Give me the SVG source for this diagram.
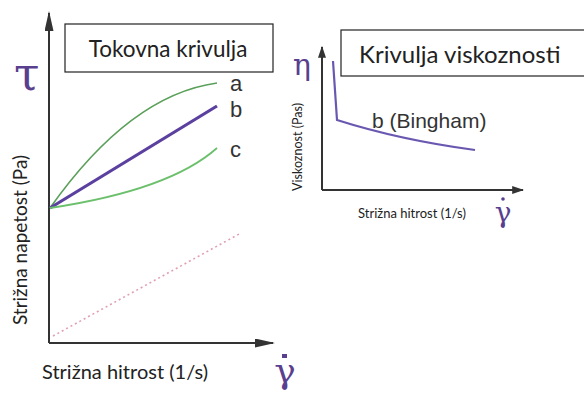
<svg xmlns="http://www.w3.org/2000/svg" width="584" height="396" viewBox="0 0 584 396">
<defs>
<style>
.axis{stroke:#333;stroke-width:2;fill:none}
.lbl{font-family:Lato,"Open Sans",sans-serif;fill:#222}
.cl{font-family:"Liberation Sans",Arial,sans-serif;fill:#333}
.sym{font-family:"DejaVu Serif",serif;fill:#5a3f8f}
.box{fill:#fff;stroke:#222;stroke-width:1.2}
</style>
<marker id="ah" viewBox="0 0 10 10" refX="9" refY="5" markerWidth="10" markerHeight="4.5" orient="auto" markerUnits="strokeWidth" preserveAspectRatio="none">
<path d="M0,0 L10,5 L0,10 z" fill="#333"/>
</marker>
<marker id="ah2" viewBox="0 0 10 10" refX="9" refY="5" markerWidth="6" markerHeight="4" orient="auto" markerUnits="strokeWidth" preserveAspectRatio="none">
<path d="M0,0 L10,5 L0,10 z" fill="#333"/>
</marker>
</defs>
<rect width="584" height="396" fill="#fff"/>

<g id="left-chart">
<g id="connectors-left">
<line class="axis" x1="49" y1="343" x2="49" y2="13" marker-end="url(#ah)"/>
<line class="axis" x1="49" y1="343" x2="273" y2="343" marker-end="url(#ah)"/>
<path d="M50,208 Q130,95 217,83" fill="none" stroke="#5aa05a" stroke-width="1.6"/>
<line x1="50" y1="208" x2="217" y2="106" stroke="#5b40a0" stroke-width="3.2"/>
<path d="M50,208 Q170,190 217,148" fill="none" stroke="#6cc06c" stroke-width="1.8"/>
<line x1="53" y1="336" x2="241" y2="233" stroke="#e0a0b0" stroke-width="1.6" stroke-dasharray="2,3"/>
</g>
<g id="title-left">
<rect class="box" x="65" y="24" width="208" height="48"/>
<text class="lbl" x="168" y="57" font-size="22.5" text-anchor="middle">Tokovna krivulja</text>
</g>
<text class="sym" x="14" y="90" font-size="46">τ</text>
<text class="cl" x="230" y="91" font-size="22">a</text>
<text class="cl" x="230" y="117" font-size="22">b</text>
<text class="cl" x="230" y="157" font-size="22">c</text>
<text class="lbl" x="27" y="240" font-size="19" text-anchor="middle" transform="rotate(-90 27 240)">Strižna napetost (Pa)</text>
<text class="lbl" x="42" y="379" font-size="20">Strižna hitrost (1/s)</text>
<text class="sym" x="285" y="383" font-size="36" text-anchor="middle">γ</text>
<rect x="282" y="354" width="5" height="4" fill="#5a3f8f"/>
</g>

<g id="right-chart">
<g id="connectors-right">
<line class="axis" x1="322" y1="190" x2="322" y2="47" marker-end="url(#ah2)" stroke-width="1.8"/>
<line class="axis" x1="322" y1="190" x2="523" y2="190" marker-end="url(#ah2)" stroke-width="1.8"/>
<path d="M333,61 L337,120 Q400,140 475,150" fill="none" stroke="#6a58b0" stroke-width="2.2"/>
</g>
<g id="title-right">
<rect class="box" x="341" y="30" width="245" height="46"/>
<text class="lbl" x="359" y="63" font-size="24">Krivulja viskoznosti</text>
</g>
<text class="sym" x="302" y="75" font-size="30" text-anchor="middle">η</text>
<text class="cl" x="372" y="128" font-size="21">b (Bingham)</text>
<text class="lbl" x="302" y="147" font-size="12.5" text-anchor="middle" transform="rotate(-90 302 147)">Viskoznost (Pas)</text>
<text class="lbl" x="358" y="218" font-size="13">Strižna hitrost (1/s)</text>
<text class="sym" x="503" y="222" font-size="28" text-anchor="middle">γ</text>
<circle cx="503" cy="199" r="1.8" fill="#5a3f8f"/>
</g>
</svg>
